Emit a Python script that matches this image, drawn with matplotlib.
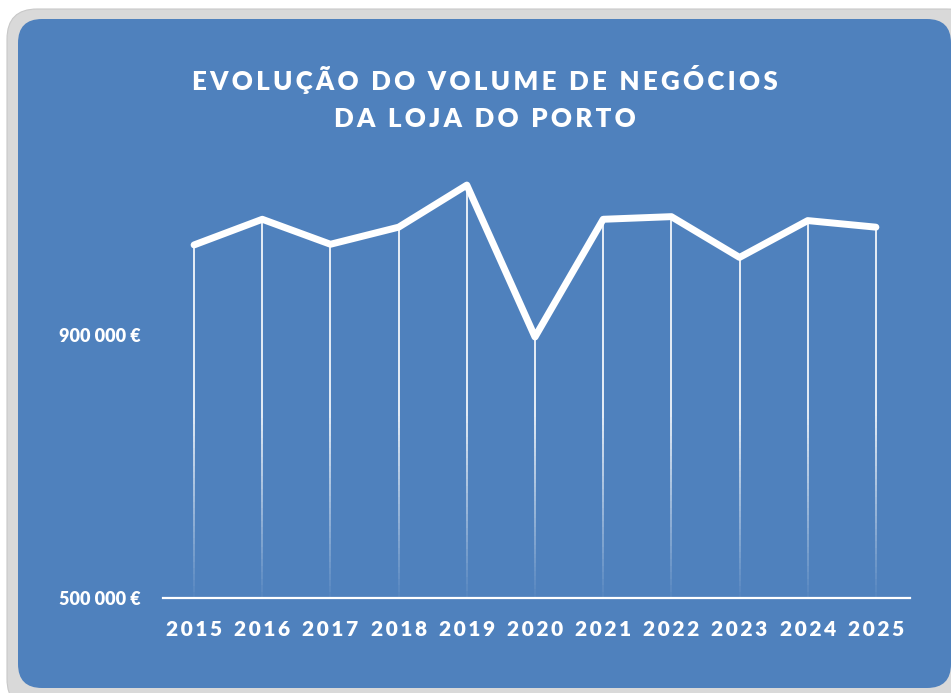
import numpy as np
import matplotlib
matplotlib.use("Agg")
import matplotlib.pyplot as plt
from matplotlib.patches import FancyBboxPatch
from matplotlib.collections import LineCollection

years = ["2015", "2016", "2017", "2018", "2019", "2020",
         "2021", "2022", "2023", "2024", "2025"]
volume = [1037000, 1076000, 1038000, 1064000, 1128000, 897000,
          1076000, 1080000, 1018000, 1074000, 1064000]
y_ticks = [500000, 900000]
y_tick_labels = ["500 000 €", "900 000 €"]
title_lines = ["EVOLUÇÃO DO VOLUME DE NEGÓCIOS", "DA LOJA DO PORTO"]

BLUE = "#4f81bd"
GREY = "#d9d9d9"
FONT = ["Lato", "DejaVu Sans"]
W, H = 951, 693


def spaced(s, sep="\u2009"):
    # fake letter spacing with thin spaces
    return sep.join(s)


fig = plt.figure(figsize=(W / 100, H / 100), dpi=100)
fig.patch.set_facecolor("white")

# background frame in pixel coordinates
bg = fig.add_axes([0, 0, 1, 1])
bg.set_xlim(0, W)
bg.set_ylim(H, 0)
bg.axis("off")
bg.add_patch(FancyBboxPatch((7, 9), 970, 700,
                            boxstyle="round,pad=0,rounding_size=30",
                            fc=GREY, ec="#c8c8c8", lw=0.8))
bg.add_patch(FancyBboxPatch((18, 19), 933, 669,
                            boxstyle="round,pad=0,rounding_size=24",
                            fc=BLUE, ec="none"))

for i, line in enumerate(title_lines):
    bg.text(485, 80 + i * 39, spaced(line), color="white", fontsize=18.6,
            fontweight="heavy", family=FONT, ha="center", va="center")

# plot area: 500 000 at y=598 px, 1 300 000 at y=72 px
x0, x1 = 160, 910
yb, yt = 598, 72
ax = fig.add_axes([x0 / W, (H - yb) / H, (x1 - x0) / W, (yb - yt) / H])
ax.set_facecolor("none")
ax.set_xlim(-0.5, len(years) - 0.5)
ax.set_ylim(500000, 1300000)

x = np.arange(len(years))

# drop lines fading towards the axis
segs, cols = [], []
for xi, v in zip(x, volume):
    ys = np.linspace(500000, v, 60)
    for a, b in zip(ys[:-1], ys[1:]):
        segs.append([(xi, a), (xi, b)])
        al = 0.03 + 0.9 * min(1.0, (0.5 * (a + b) - 500000) / 280000)
        cols.append((1, 1, 1, al))
ax.add_collection(LineCollection(segs, colors=cols, linewidths=1.3, zorder=2))

ax.plot(x, volume, color="white", lw=5, solid_joinstyle="round",
        solid_capstyle="round", zorder=3)

for s in ["top", "right", "left"]:
    ax.spines[s].set_visible(False)
ax.spines["bottom"].set_color("white")
ax.spines["bottom"].set_linewidth(1.6)
ax.spines["bottom"].set_bounds(-0.46, len(years) - 0.5)

ax.set_xticks(x)
ax.set_xticklabels([spaced(y) for y in years], color="white", fontsize=15,
                   fontweight="heavy", family=FONT)
ax.set_yticks(y_ticks)
ax.set_yticklabels(y_tick_labels, color="white", fontsize=13,
                   fontweight="heavy", family=FONT)
ax.tick_params(axis="x", length=0, pad=16)
ax.tick_params(axis="y", length=0, pad=14)

fig.savefig("out.png", dpi=100)
